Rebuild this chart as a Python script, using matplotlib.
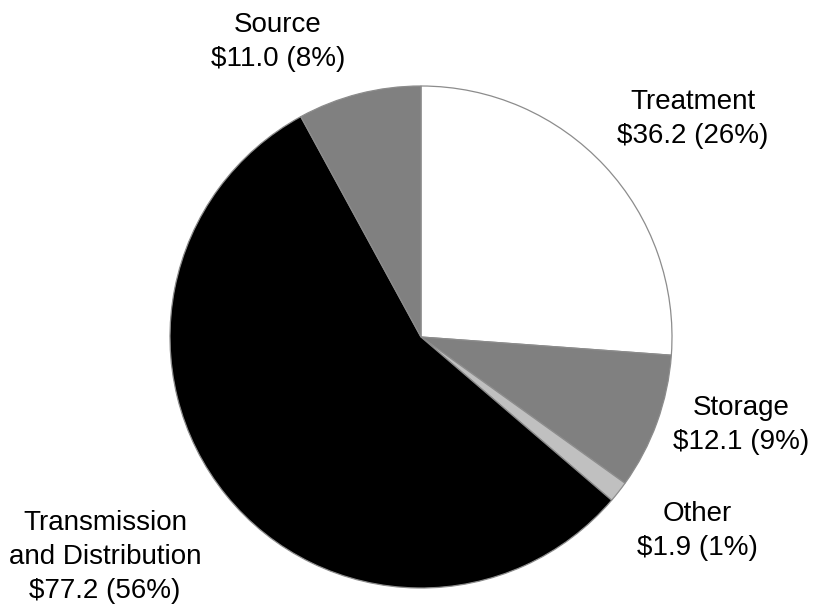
import matplotlib
matplotlib.use('Agg')
import matplotlib.pyplot as plt

# 数据
categories = ['Treatment', 'Storage', 'Other', 'Transmission\nand Distribution', 'Source']
values = [36.2, 12.1, 1.9, 77.2, 11.0]
percents = [26, 9, 1, 56, 8]
colors = ['#ffffff', '#808080', '#c0c0c0', '#000000', '#808080']

plt.rcParams['font.family'] = ['Liberation Sans', 'DejaVu Sans']

W, H = 827, 607
cx, cy, r = 421, 337, 251

fig = plt.figure(figsize=(W / 100, H / 100), dpi=100)
ax = fig.add_axes([0, 0, 1, 1])
ax.pie(values, colors=colors, startangle=90, counterclock=False, radius=1,
       wedgeprops={'edgecolor': '#8c8c8c', 'linewidth': 0.9})
ax.set_xlim(-cx / r, (W - cx) / r)
ax.set_ylim(-(H - cy) / r, cy / r)
ax.set_aspect('auto')
ax.axis('off')

# 标签位置 (像素)
label_pos = [(693, 119), (741, 425), (697, 531), (105, 557), (278, 42)]
for name, v, p, (px, py) in zip(categories, values, percents, label_pos):
    ax.text((px - cx) / r, (cy - py) / r, '%s\n$%.1f (%d%%)' % (name, v, p),
            ha='center', va='center', fontsize=20, linespacing=1.38)

fig.savefig('out.png', dpi=100)
